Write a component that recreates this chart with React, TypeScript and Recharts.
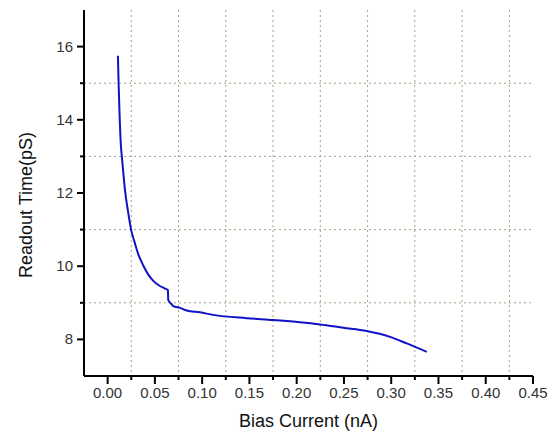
import { LineChart, Line, XAxis, YAxis, CartesianGrid, Label } from 'recharts'

// Bias current (nA) vs readout time (pS)
const BIAS_CURRENT = [
  0.0109, 0.0116, 0.0127, 0.0141, 0.0151, 0.0166, 0.0183, 0.0218, 0.0250, 0.0287,
  0.0324, 0.0377, 0.0430, 0.0483, 0.0540, 0.0606, 0.0631, 0.0638, 0.0641, 0.0677,
  0.0694, 0.0765, 0.0836, 0.0977, 0.1117, 0.1470, 0.1750, 0.2035, 0.2247, 0.2493,
  0.2740, 0.2987, 0.3164, 0.3376,
]
const READOUT_TIME = [
  15.75, 15.0, 14.09, 13.27, 12.98, 12.55, 12.09, 11.46, 10.98, 10.64,
  10.33, 10.02, 9.77, 9.6, 9.48, 9.39, 9.36, 9.35, 9.08, 8.96,
  8.91, 8.86, 8.79, 8.74, 8.67, 8.58, 8.53, 8.47, 8.41, 8.32,
  8.23, 8.07, 7.89, 7.66,
]

const X_TICKS = [0, 0.025, 0.05, 0.075, 0.1, 0.125, 0.15, 0.175, 0.2, 0.225, 0.25, 0.275, 0.3, 0.325, 0.35, 0.375, 0.4, 0.425, 0.45]
const Y_TICKS = [8, 9, 10, 11, 12, 13, 14, 15, 16]
const X_GRID = [0.025, 0.075, 0.125, 0.175, 0.225, 0.275, 0.325, 0.375, 0.425]
const Y_GRID = [9, 11, 13, 15]

const data = BIAS_CURRENT.map((x, i) => ({ x, y: READOUT_TIME[i] }))

const FONT = 'Arial, "Liberation Sans", sans-serif'

const XTick = (props: any) => {
  const { x, y, payload } = props
  const v = payload.value
  const major = Math.round(v * 1000) % 50 === 0
  return (
    <g>
      <line x1={x} y1={y} x2={x} y2={y + (major ? 8 : 4)} stroke="#000" strokeWidth={2} />
      {major && (
        <text x={x} y={y + 22} textAnchor="middle" fontSize={15} fill="#333" fontFamily={FONT}>
          {v.toFixed(2)}
        </text>
      )}
    </g>
  )
}

const YTick = (props: any) => {
  const { x, y, payload } = props
  const v = payload.value
  const major = v % 2 === 0
  return (
    <g>
      <line x1={x} y1={y} x2={x - (major ? 7 : 4)} y2={y} stroke="#000" strokeWidth={2} />
      {major && (
        <text x={x - 11} y={y + 5} textAnchor="end" fontSize={15} fill="#333" fontFamily={FONT}>
          {v}
        </text>
      )}
    </g>
  )
}

export default function App() {
  return (
    <div style={{ position: 'absolute', left: 0, top: 0, background: '#fff' }}>
      <LineChart width={554} height={432} data={data} margin={{ top: 10, right: 21, left: 0, bottom: 0 }}>
        <CartesianGrid
          stroke="#a3a383"
          strokeDasharray="2 3"
          horizontalValues={Y_GRID}
          verticalValues={X_GRID}
        />
        <XAxis
          dataKey="x"
          type="number"
          domain={[-0.025, 0.45]}
          ticks={X_TICKS}
          interval={0}
          height={56}
          tickSize={0}
          tickMargin={0}
          tickLine={false}
          axisLine={{ stroke: '#000', strokeWidth: 2 }}
          tick={<XTick />}
          allowDataOverflow
        >
          <Label
            content={() => (
              <text x={308.5} y={427} textAnchor="middle" fontSize={18} fill="#111" fontFamily={FONT}>
                Bias Current (nA)
              </text>
            )}
          />
        </XAxis>
        <YAxis
          type="number"
          domain={[7, 17]}
          ticks={Y_TICKS}
          interval={0}
          width={84}
          tickSize={0}
          tickMargin={0}
          tickLine={false}
          axisLine={{ stroke: '#000', strokeWidth: 2 }}
          tick={<YTick />}
          allowDataOverflow
        >
          <Label
            content={() => (
              <text
                x={32}
                y={205}
                transform="rotate(-90 32 205)"
                textAnchor="middle"
                fontSize={18}
                fill="#111"
                fontFamily={FONT}
              >
                Readout Time(pS)
              </text>
            )}
          />
        </YAxis>
        <Line
          type="monotone"
          dataKey="y"
          stroke="#1212c8"
          strokeWidth={2}
          dot={false}
          isAnimationActive={false}
        />
      </LineChart>
    </div>
  )
}
